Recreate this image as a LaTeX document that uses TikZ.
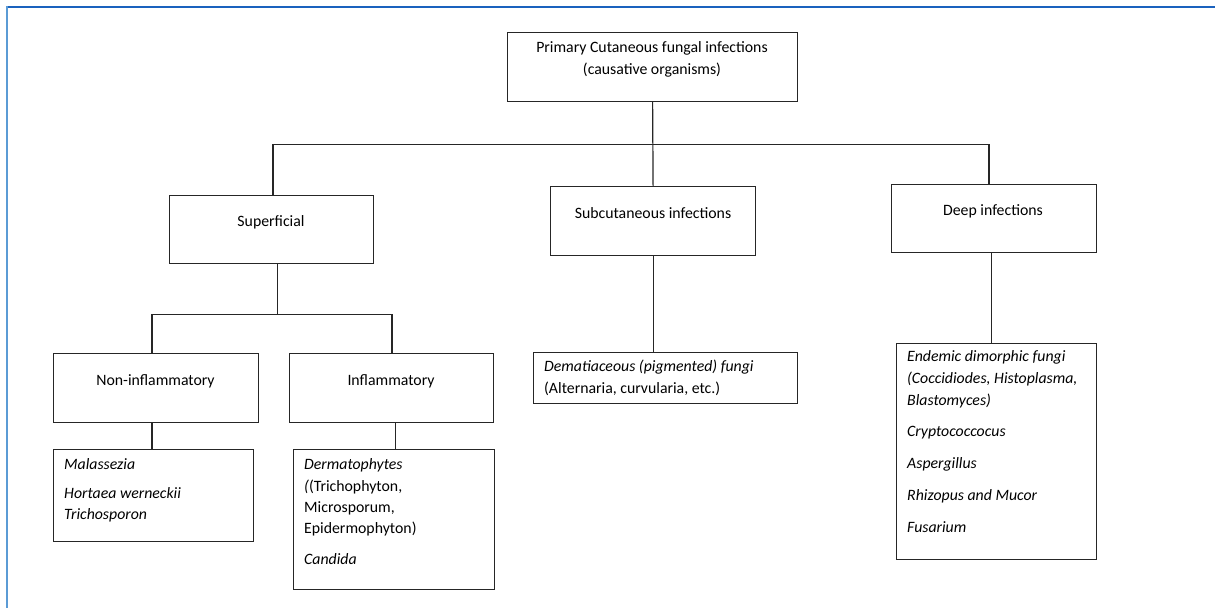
\documentclass[tikz,border=0pt]{standalone}
\usepackage{fontspec}
\setmainfont{Carlito}
\begin{document}
\begin{tikzpicture}[x=1pt,y=-1pt,
  box/.style={draw=black!85, line width=1.2pt, anchor=north west, inner sep=0pt},
  conn/.style={draw=black!85, line width=1.2pt},
  lbl/.style={inner sep=0pt, font=\fontsize{15.8}{19}\selectfont},
  lft/.style={lbl, anchor=mid west}]
\useasboundingbox (0,0) rectangle (1215,608);
\draw[color={rgb,255:red,26;green,98;blue,190}, line width=2pt] (6,6.5) -- (1215,6.5);
\draw[color={rgb,255:red,91;green,155;blue,213}, line width=2pt] (6.5,6) -- (6.5,608);
% boxes
\node[box, minimum width=290pt, minimum height=69pt] (top) at (507,32) {};
\node[box, minimum width=204pt, minimum height=68pt] (sup) at (169,195) {};
\node[box, minimum width=205pt, minimum height=69pt] (sub) at (550,186) {};
\node[box, minimum width=205pt, minimum height=68pt] (deep) at (891,184) {};
\node[box, minimum width=205pt, minimum height=69pt] (non) at (53,353) {};
\node[box, minimum width=204pt, minimum height=69pt] (inf) at (289,353) {};
\node[box, minimum width=200pt, minimum height=92pt] (mal) at (53,449) {};
\node[box, minimum width=201pt, minimum height=140pt] (der) at (293,449) {};
\node[box, minimum width=264pt, minimum height=51pt] (dem) at (533,352) {};
\node[box, minimum width=200pt, minimum height=216pt] (end) at (896,343) {};
% labels
\node[lbl, anchor=mid] (tt1) at (652,50) {Primary Cutaneous fungal infections};
\node[lbl, anchor=mid] (tt2) at (652,72) {(causative organisms)};
\node[lbl, anchor=mid] (ts) at (271,224) {Superficial};
\node[lbl, anchor=mid] (tsub) at (653,216) {Subcutaneous infections};
\node[lbl, anchor=mid] (td) at (993,213) {Deep infections};
\node[lbl, anchor=mid] (tn) at (155.5,383) {Non-inflammatory};
\node[lbl, anchor=mid] (ti) at (391,383) {Inflammatory};
\node[lft] (m1) at (64,467) {\itshape Malassezia};
\node[lft] (m2) at (64,496) {\itshape Hortaea werneckii};
\node[lft] (m3) at (64,517) {\itshape Trichosporon};
\node[lft] (d1) at (304,467) {\itshape Dermatophytes};
\node[lft] (d2) at (304,489) {\textit{(}(Trichophyton,};
\node[lft] (d3) at (304,510) {Microsporum,};
\node[lft] (d4) at (304,531) {Epidermophyton)};
\node[lft] (d5) at (304,562) {\itshape Candida};
\node[lft] (s1) at (544,369) {\itshape Dematiaceous (pigmented) fungi};
\node[lft] (s2) at (544,391) {(Alternaria, curvularia, etc.)};
\node[lft] (e1) at (907,359) {\itshape Endemic dimorphic fungi};
\node[lft] (e2) at (907,381) {\itshape (Coccidiodes, Histoplasma,};
\node[lft] (e3) at (907,403) {\itshape Blastomyces)};
\node[lft] (e4) at (907,434) {\itshape Cryptococcocus};
\node[lft] (e5) at (907,466) {\itshape Aspergillus};
\node[lft] (e6) at (907,498) {\itshape Rhizopus and Mucor};
\node[lft] (e7) at (907,530) {\itshape Fusarium};
% junctions
\coordinate (jl) at (273,144.5);
\coordinate (jr) at (989,144.5);
\coordinate (sl) at (152,314.5);
\coordinate (sr) at (392,314.5);
% connectors
\draw[conn] (top.south) -- (sub.north);
\draw[conn] (sup.north -| jl) -- (jl) -- (jr) -- (deep.north -| jr);
\draw[conn] ([xshift=6pt]sup.south) -- ([xshift=6pt]sup.south |- sl);
\draw[conn] (non.north -| sl) -- (sl) -- (sr) -- (inf.north -| sr);
\draw[conn] (non.south -| sl) -- (mal.north -| sl);
\draw[conn] ([xshift=4pt]inf.south) -- ([xshift=4pt]inf.south |- der.north);
\draw[conn] (sub.south) -- (sub.south |- dem.north);
\draw[conn] ([xshift=-3pt]deep.south) -- ([xshift=-3pt]deep.south |- end.north);
\end{tikzpicture}
\end{document}
